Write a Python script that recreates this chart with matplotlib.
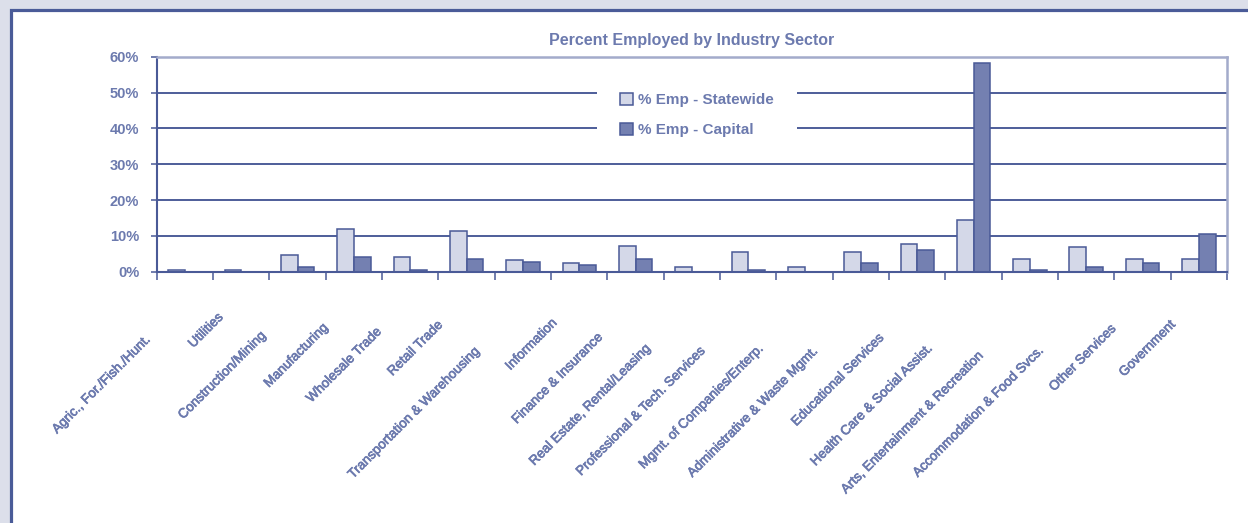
import matplotlib
matplotlib.use('Agg')
import matplotlib.pyplot as plt
import matplotlib.patheffects as pe
import numpy as np
from matplotlib.patches import Rectangle

plt.rcParams['font.family'] = ['Liberation Sans', 'DejaVu Sans']

categories = [
    "Agric., For./Fish./Hunt.", "Utilities", "Construction/Mining", "Manufacturing",
    "Wholesale Trade", "Retail Trade", "Transportation & Warehousing", "Information",
    "Finance & Insurance", "Real Estate, Rental/Leasing", "Professional & Tech. Services",
    "Mgmt. of Companies/Enterp.", "Administrative & Waste Mgmt.", "Educational Services",
    "Health Care & Social Assist.", "Arts, Entertainment & Recreation",
    "Accommodation & Food Svcs.", "Other Services", "Government",
]
statewide = [0.4, 0.4, 4.6, 11.9, 4.1, 11.4, 3.2, 2.4, 7.3, 1.4,
             5.6, 1.4, 5.6, 7.8, 14.5, 3.6, 6.9, 3.6, 3.6]
capital = [0.0, 0.0, 1.4, 4.1, 0.5, 3.6, 2.8, 1.9, 3.6, 0.0,
           0.5, 0.0, 2.3, 6.0, 58.3, 0.5, 1.4, 2.3, 10.6]
series_names = ["% Emp - Statewide", "% Emp - Capital"]
yticks = [0, 10, 20, 30, 40, 50, 60]
title = "Percent Employed by Industry Sector"

W, H = 1248, 523
TXT = '#6c7aae'
EDGE = '#4a5a97'
LIGHT = '#d4d8e8'
DARK = '#7480b1'
GRID = '#4d5d99'
SPINE_LIGHT = '#a3abcb'

fig = plt.figure(figsize=(W / 100, H / 100), dpi=100)
fig.patch.set_facecolor('#dcdfea')
fig.patches.append(Rectangle((10.5 / W, -0.1), 1.2, (H - 10.5) / H + 0.1,
                             transform=fig.transFigure, facecolor='white',
                             edgecolor='#4a5b98', lw=2.3, zorder=-1))

ax = fig.add_axes([156.7 / W, (H - 271.7) / H, (1227 - 156.7) / W, (271.7 - 56.7) / H])
ax.set_facecolor('white')

x = np.arange(len(categories))
bw = 0.296
b1 = ax.bar(x - bw / 2, statewide, bw, color=LIGHT, edgecolor=EDGE, lw=1.1, zorder=2)
b2 = ax.bar(x + bw / 2, capital, bw, color=DARK, edgecolor=EDGE, lw=1.1, zorder=2)

ax.set_xlim(-0.5, len(categories) - 0.5)
ax.set_ylim(0, 60)
ax.set_yticks(yticks)
ax.set_yticklabels([f"{v}%" for v in yticks], fontsize=10.5, fontweight='bold', color=TXT)
ax.set_xticks(np.arange(-0.5, len(categories), 1))
ax.set_xticklabels([])
ax.tick_params(axis='x', length=5.5, width=1.1, color=EDGE, direction='out')
ax.tick_params(axis='y', length=4.5, width=1.1, color=EDGE, direction='out', pad=8)

ax.set_axisbelow(True)
ax.yaxis.grid(True, color=GRID, lw=1.4)
for s in ['left', 'bottom']:
    ax.spines[s].set_color(EDGE)
    ax.spines[s].set_linewidth(1.5)
for s in ['top', 'right']:
    ax.spines[s].set_color(SPINE_LIGHT)
    ax.spines[s].set_linewidth(1.8)

fig.text(692 / W, (H - 41) / H, title, ha='center', va='center',
         fontsize=11.5, fontweight='bold', color=TXT)

leg = ax.legend([b1, b2], series_names, loc='center',
                bbox_to_anchor=(697 / W, (H - 115) / H), bbox_transform=fig.transFigure,
                frameon=True, facecolor='white', edgecolor='none', framealpha=1,
                fancybox=False, handlelength=0.85, handleheight=0.85,
                handletextpad=0.35, labelspacing=1.0, borderpad=1.5,
                prop={'size': 11, 'weight': 'bold'}, labelcolor=TXT)
leg.set_zorder(3)

# category labels, rotated 45 degrees
fig.canvas.draw()
renderer = fig.canvas.get_renderer()
lab_fs = 9.6
px2pt = 72 / 100
for i, lab in enumerate(categories):
    t = ax.text(0, 0, lab, fontsize=lab_fs)
    L = t.get_window_extent(renderer).width
    t.remove()
    dy = 28.9 + 0.247 * L
    dx = 13 + 0.065 * L - dy
    ax.annotate(lab, xy=(i, 0), xycoords=('data', 'axes fraction'),
                xytext=(dx * px2pt, -dy * px2pt), textcoords='offset points',
                rotation=45, rotation_mode='anchor', ha='right', va='top',
                fontsize=lab_fs, color=TXT, annotation_clip=False,
                path_effects=[pe.withStroke(linewidth=0.5, foreground=TXT)])

fig.savefig('out.png', dpi=100, facecolor=fig.get_facecolor())
